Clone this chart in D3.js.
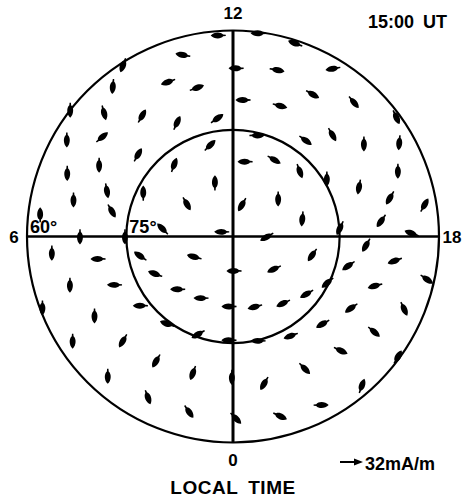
<!DOCTYPE html>
<html>
<head>
<meta charset="utf-8">
<script src="https://d3js.org/d3.v7.min.js"></script>
<style>
  body { margin: 0; background: #fff; }
  svg { display: block; }
  .lbl { font-family: "Liberation Sans", "DejaVu Sans", sans-serif; font-weight: bold; fill: #000; }
</style>
</head>
<body>
<svg id="chart" width="462" height="498"></svg>
<script>
// equivalent current vectors, 15:00 UT
// magnetic local time (h), magnetic latitude (deg), direction (deg, clockwise from the 12 LT direction of the dial)
var ltHours = [
  11.72, 12.47, 13.19, 10.97, 9.82, 12.07, 12.99, 14.05, 10.48, 11.09,
  9.42, 12.28, 13.32, 13.95, 14.80, 15.59, 8.52, 8.92, 9.53, 10.25,
  11.49, 12.89, 14.47, 14.95, 15.65, 16.04, 8.01, 8.48, 8.71, 9.37,
  11.06, 12.61, 13.88, 15.04, 15.90, 16.57, 16.56, 7.39, 7.87, 7.72,
  8.35, 10.76, 13.06, 15.35, 17.05, 6.86, 7.33, 6.79, 6.43, 5.99,
  5.99, 6.41, 7.49, 18.05, 17.70, 17.60, 17.08, 17.38, 17.93,
  5.65, 5.37, 5.21, 4.29, 4.15, 23.89, 20.56, 18.88, 18.25, 18.57,
  18.95, 18.83, 4.89, 4.52, 3.09, 1.83, 0.22, 22.85, 21.54, 20.53,
  19.74, 19.28, 4.63, 4.01, 3.55, 2.47, 1.31, 0.15, 23.10, 21.99,
  20.95, 20.08, 19.53, 20.27, 21.11, 20.41, 3.79, 3.10, 2.11, 1.09,
  0.03, 23.20, 22.10, 2.79, 1.86, 0.94, 23.94, 23.02, 22.16, 21.28
];
var mlat = [
  60.7, 60.2, 60.5, 62.8, 60.4, 65.9, 65.3, 61.7, 66.0, 68.2,
  62.2, 70.6, 70.3, 66.7, 64.0, 60.6, 60.0, 64.3, 68.5, 72.1,
  73.2, 75.4, 73.0, 69.8, 67.1, 62.4, 62.2, 66.5, 72.3, 77.0,
  76.8, 79.4, 77.8, 76.9, 74.5, 70.8, 64.5, 64.5, 68.4, 76.0,
  82.1, 82.1, 85.4, 81.8, 80.0, 66.6, 71.0, 72.5, 61.9, 68.2,
  74.8, 80.1, 88.3, 85.3, 74.9, 68.8, 66.9, 61.9, 64.3,
  63.8, 70.6, 76.7, 77.9, 83.9, 85.2, 82.7, 78.6, 71.1, 66.6,
  73.2, 61.2, 65.6, 71.9, 79.3, 80.3, 80.2, 79.7, 78.3, 76.9,
  75.2, 68.6, 60.4, 67.2, 73.7, 74.6, 75.4, 75.4, 74.9, 73.8,
  72.3, 70.4, 63.2, 65.6, 67.6, 60.3, 62.3, 68.4, 69.2, 69.8,
  70.0, 68.6, 68.6, 62.9, 63.8, 64.0, 63.8, 63.2, 62.5, 61.4
];
var azim = [
  270, 270, 290, 280, 200, 270, 100, 260, 250, 70,
  185, 270, 105, 120, 140, 155, 180, 165, 30, 25,
  55, 90, 125, 150, 180, 185, 180, 50, 30, 20,
  45, 270, 120, 160, 180, 190, 180, 180, 180, 0,
  150, 0, 210, 180, 185, 180, 170, 150, 0, 180,
  180, 315, 270, 240, 205, 215, 210, 30, 290,
  180, 270, 305, 290, 285, 270, 245, 215, 210, 250,
  235, 125, 180, 270, 270, 270, 270, 255, 245, 240,
  230, 255, 180, 180, 270, 290, 240, 270, 270, 250,
  240, 235, 155, 130, 115, 30, 180, 210, 210, 200,
  180, 210, 135, 180, 160, 145, 135, 115, 90, 20
];

var dialHours = [12, 18, 0, 6];
var dialLabels = ["12", "18", "0", "6"];
var latRings = [60, 75];
var ringLabels = ["60°", "75°"];
var scaleValue = 32;       // mA/m
var scaleLabel = "32mA/m";
var utLabel = "15:00\u2002UT";
var axisTitle = "LOCAL\u2002TIME";

var svg = d3.select('#chart');
var cx = 233, cy = 236.5, R = 206;
var toRad = Math.PI / 180;

// orthographic radial distance: r ~ sin(colatitude)
var rScale = d3.scaleLinear().domain([0, Math.sin(30 * toRad)]).range([0, R]);
var ltScale = d3.scaleLinear().domain([0, 24]).range([180, 540]);
var arrowLen = d3.scaleLinear().domain([0, scaleValue]).range([0, 23]);

function radius(lat) {
    return rScale(Math.sin((90 - lat) * toRad));
}
function project(lt, lat) {
    var r = radius(lat);
    var a = ltScale(lt) * toRad;
    return [cx + r * Math.sin(a), cy - r * Math.cos(a)];
}

var g = svg.append('g');

// latitude rings
g.selectAll('.ring')
    .data(latRings)
  .enter().append('circle')
    .attr('class', 'ring')
    .attr('cx', cx)
    .attr('cy', cy)
    .attr('r', function(d) { return radius(d); })
    .attr('fill', 'none')
    .attr('stroke', '#000')
    .attr('stroke-width', 2.2);

// 0-12 and 6-18 meridians
g.selectAll('.meridian')
    .data([[12, 0], [6, 18]])
  .enter().append('line')
    .attr('class', 'meridian')
    .attr('x1', function(d) { return project(d[0], 60)[0]; })
    .attr('y1', function(d) { return project(d[0], 60)[1]; })
    .attr('x2', function(d) { return project(d[1], 60)[0]; })
    .attr('y2', function(d) { return project(d[1], 60)[1]; })
    .attr('stroke', '#000')
    .attr('stroke-width', function(d, i) { return i === 0 ? 3 : 2.6; });

// dial hour labels
var labelOffset = {12: [0, -17], 18: [13, 1], 0: [0, 18], 6: [-13, 1]};
g.selectAll('.hour')
    .data(dialHours)
  .enter().append('text')
    .attr('class', 'lbl hour')
    .attr('x', function(d) { return project(d, 60)[0] + labelOffset[d][0]; })
    .attr('y', function(d) { return project(d, 60)[1] + labelOffset[d][1]; })
    .attr('text-anchor', 'middle')
    .attr('dominant-baseline', 'central')
    .style('font-size', '17px')
    .text(function(d, i) { return dialLabels[i]; });

// ring labels just above the 6 LT meridian
g.selectAll('.ringlbl')
    .data(latRings)
  .enter().append('text')
    .attr('class', 'lbl ringlbl')
    .attr('x', function(d) { return project(6, d)[0] + 3; })
    .attr('y', function(d) { return project(6, d)[1] - 4; })
    .style('font-size', '18px')
    .text(function(d, i) { return ringLabels[i]; });

// arrow glyph pointing along +x, centred on its data point
function arrowPath(L) {
    var h = L / 2, w = 3.8;
    return 'M' + h + ',0' +
        'C' + (h * 0.55) + ',' + (-w) + ' ' + (-h * 0.35) + ',' + (-w) + ' ' + (-h * 0.65) + ',-0.9' +
        'L' + (-h) + ',-0.7L' + (-h) + ',0.7L' + (-h * 0.65) + ',0.9' +
        'C' + (-h * 0.35) + ',' + w + ' ' + (h * 0.55) + ',' + w + ' ' + h + ',0Z';
}

var vectors = ltHours.map(function(lt, i) {
    return {lt: lt, lat: mlat[i], azim: azim[i]};
});

g.selectAll('.vec')
    .data(vectors)
  .enter().append('path')
    .attr('class', 'vec')
    .attr('d', arrowPath(arrowLen(21)))
    .attr('fill', '#000')
    .attr('transform', function(d) {
        var p = project(d.lt, d.lat);
        return 'translate(' + p[0] + ',' + p[1] + ')rotate(' + (d.azim - 90) + ')';
    });

// UT label
svg.append('text')
    .attr('class', 'lbl')
    .attr('x', 447)
    .attr('y', 28)
    .attr('text-anchor', 'end')
    .style('font-size', '18px')
    .text(utLabel);

// scale arrow
var legend = svg.append('g').attr('transform', 'translate(340,462)');
var sl = arrowLen(scaleValue);
legend.append('line')
    .attr('x1', 0).attr('x2', sl - 6)
    .attr('y1', 0).attr('y2', 0)
    .attr('stroke', '#000')
    .attr('stroke-width', 2);
legend.append('path')
    .attr('d', 'M' + sl + ',0L' + (sl - 9) + ',-3.5L' + (sl - 9) + ',3.5Z')
    .attr('fill', '#000');
legend.append('text')
    .attr('class', 'lbl')
    .attr('x', sl + 2)
    .attr('y', 8)
    .style('font-size', '18px')
    .text(scaleLabel);

// axis title
svg.append('text')
    .attr('class', 'lbl')
    .attr('x', cx)
    .attr('y', 494)
    .attr('text-anchor', 'middle')
    .style('font-size', '19px')
    .style('letter-spacing', '0.5px')
    .text(axisTitle);
</script>
</body>
</html>
